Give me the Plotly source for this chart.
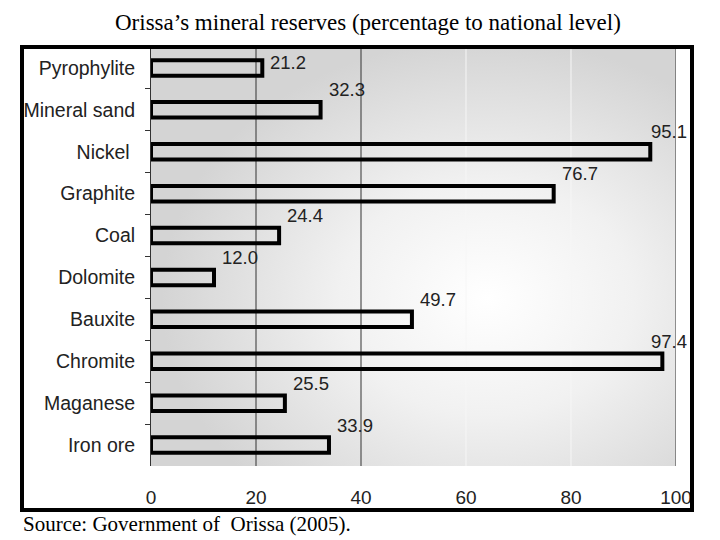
import plotly.graph_objects as go

# ---- data (top to bottom as in the chart) ----
minerals = ["Pyrophylite", "Mineral sand", "Nickel ", "Graphite", "Coal",
            "Dolomite", "Bauxite", "Chromite", "Maganese", "Iron ore"]
shares = [21.2, 32.3, 95.1, 76.7, 24.4, 12.0, 49.7, 97.4, 25.5, 33.9]
x_ticks = [0, 20, 40, 60, 80, 100]

title_text = "Orissa\u2019s mineral reserves (percentage to national level)"
source_text = "Source: Government of\u00a0 Orissa (2005)."

# ---- geometry (pixels of the page; the figure sits 8px in from the page corner) ----
OFF = 8
W, H = 720 - OFF, 540 - OFF
PL, PR, PT, PB = 151, 676, 47, 466          # plot edges in page pixels
ML, MR, MT, MB = PL - OFF, 720 - PR, PT - OFF, 540 - PB
PW, PH = PR - PL, PB - PT


def px_x(p):
    return (p - PL) / PW


def px_y(p):
    return (PB - p) / PH


SANS = "Liberation Sans, Arial, sans-serif"
SERIF = "Liberation Serif, Times New Roman, serif"

fig = go.Figure()
fig.add_trace(go.Bar(
    x=shares, y=minerals, orientation="h", width=0.37,
    marker=dict(color="rgba(0,0,0,0)", line=dict(color="black", width=4)),
    hoverinfo="x+y",
))

# value labels
annotations = []
for i, (m, v) in enumerate(zip(minerals, shares)):
    ys = 5 if i == 0 else 20
    if v > 90:
        annotations.append(dict(x=100, y=m, xref="x", yref="y", text=f"{v:.1f}",
                                xanchor="right", yanchor="middle", xshift=13, yshift=ys,
                                showarrow=False, font=dict(family=SANS, size=18.5, color="#222")))
    else:
        annotations.append(dict(x=v, y=m, xref="x", yref="y", text=f"{v:.1f}",
                                xanchor="left", yanchor="middle", xshift=6, yshift=ys,
                                showarrow=False, font=dict(family=SANS, size=18.5, color="#222")))

annotations.append(dict(x=px_x(21), y=px_y(524), xref="paper", yref="paper",
                        text=source_text, xanchor="left", yanchor="middle", showarrow=False,
                        font=dict(family=SERIF, size=21, color="#000")))
annotations.append(dict(x=px_x(368), y=px_y(23), xref="paper", yref="paper",
                        text=title_text, xanchor="center", yanchor="middle", showarrow=False,
                        font=dict(family=SERIF, size=23, color="#000")))

shapes = []
# grid lines
for gx, col in [(20, "#333333"), (40, "#333333"), (60, "#f6f6f6"), (80, "#f6f6f6"), (100, "#333333")]:
    shapes.append(dict(type="line", xref="x", yref="paper", x0=gx, x1=gx, y0=0, y1=1,
                       line=dict(color=col, width=1), layer="below"))
# outer frame
shapes.append(dict(type="rect", xref="paper", yref="paper",
                   x0=px_x(22), x1=px_x(692), y0=px_y(510), y1=px_y(47),
                   line=dict(color="black", width=4), fillcolor="rgba(0,0,0,0)", layer="above"))
# faint edge line at right of image
shapes.append(dict(type="line", xref="paper", yref="paper",
                   x0=px_x(718), x1=px_x(718), y0=px_y(540), y1=px_y(8),
                   line=dict(color="#c4c4c4", width=1), layer="above"))

grad_svg = (
    "data:image/svg+xml;utf8,"
    "<svg xmlns='http://www.w3.org/2000/svg' width='525' height='419' preserveAspectRatio='none'>"
    "<defs><radialGradient id='g' cx='0.64' cy='0.6' r='0.62'>"
    "<stop offset='0' stop-color='%23ffffff'/>"
    "<stop offset='0.45' stop-color='%23f1f1f1'/>"
    "<stop offset='1' stop-color='%23d4d4d4'/>"
    "</radialGradient></defs>"
    "<rect width='525' height='419' fill='url(%23g)'/></svg>"
)

n = len(minerals)
fig.update_layout(
    width=W, height=H,
    margin=dict(l=ML, r=MR, t=MT, b=MB, pad=0, autoexpand=False),
    paper_bgcolor="white", plot_bgcolor="rgba(0,0,0,0)",
    showlegend=False,
    xaxis=dict(range=[0, 100], tickvals=x_ticks, ticktext=[str(t) for t in x_ticks],
               showgrid=False, zeroline=False, showline=False, ticks="",
               ticklabelstandoff=18, automargin=False,
               tickfont=dict(family=SANS, size=19, color="#222"), fixedrange=True),
    yaxis=dict(type="category", categoryorder="array", categoryarray=minerals,
               range=[n - 0.5, -0.5], autorange=False,
               showgrid=False, showline=True, linecolor="#333", linewidth=1,
               ticks="outside", ticklen=5, tickcolor="#333", tickson="boundaries",
               ticklabelstandoff=11, automargin=False,
               tickfont=dict(family=SANS, size=19.5, color="#222"), fixedrange=True),
    annotations=annotations,
    shapes=shapes,
    images=[dict(source=grad_svg, xref="paper", yref="paper", x=0, y=1, sizex=1, sizey=1,
                 sizing="stretch", layer="below", xanchor="left", yanchor="top")],
)

fig.write_html("out.html")
